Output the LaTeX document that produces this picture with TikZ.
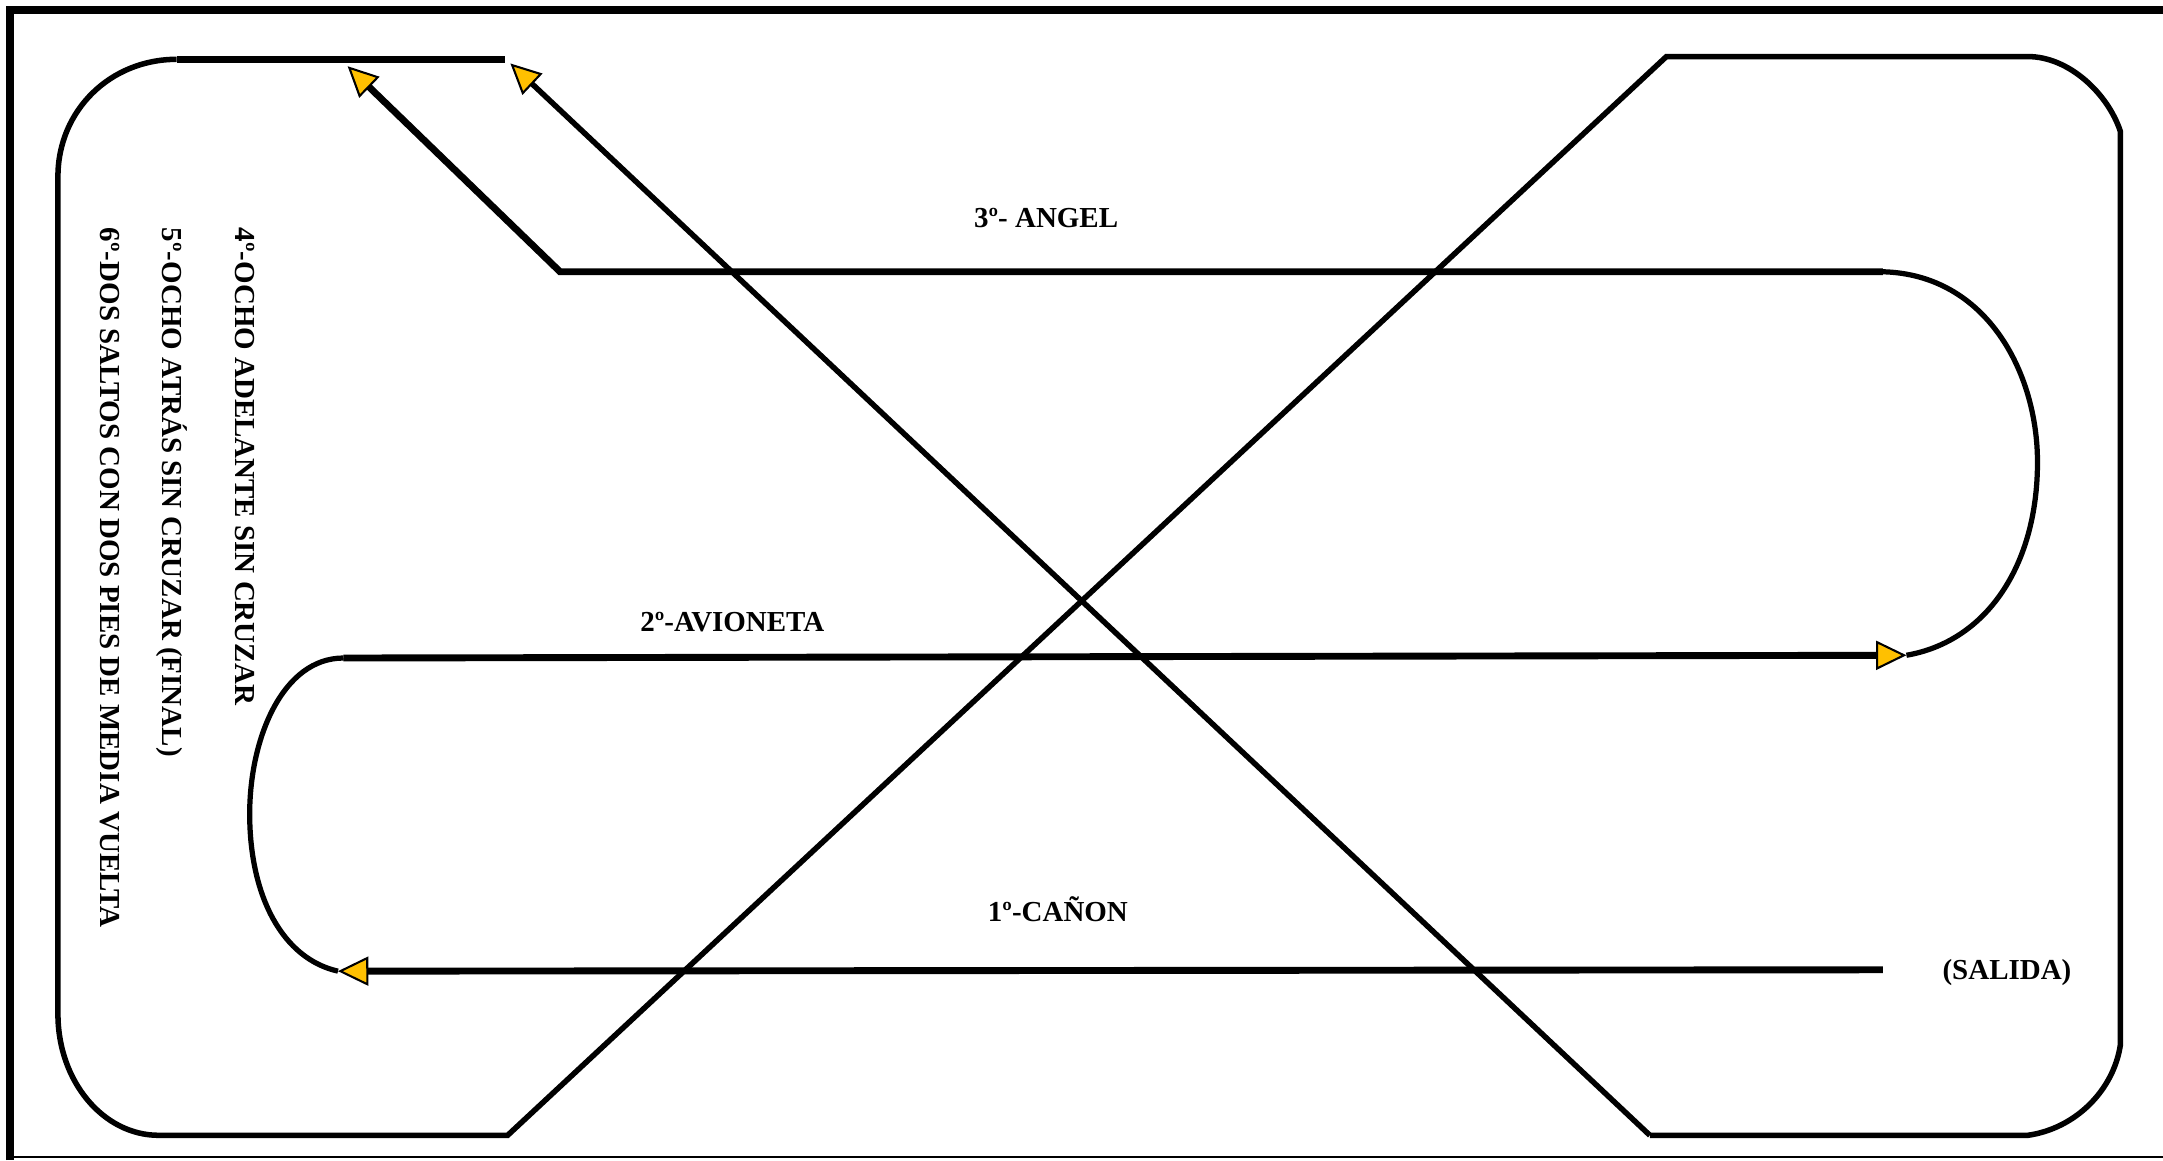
\documentclass[tikz,border=0pt]{standalone}
\usepackage{fontspec}
\setmainfont{Liberation Serif}
\usepackage{xcolor}
\usetikzlibrary{arrows.meta}
\definecolor{tipyellow}{RGB}{255,192,0}

\begin{document}
\begin{tikzpicture}[x=1pt, y=-1pt,
    track/.style={line width=4pt, line cap=butt},
    loopline/.style={line width=3.8pt},
    straight/.style={line width=5pt},
    arrow/.style={-{Triangle[length=22pt, width=21pt, fill=tipyellow, line width=1.5pt]}},
    lettering/.style={font=\fontsize{21}{24}\selectfont\bfseries, inner sep=0pt, anchor=base west},
    side/.style={lettering, rotate=-90}]

\useasboundingbox (0,0) rectangle (1568,841);

% frame
\draw[line width=6pt] (7,841) -- (7,7) -- (1568,7);
\draw[line width=1.5pt] (7,839) -- (1568,839);

% inner course
\coordinate (salida) at (1365,703);
\coordinate (L1) at (245,704);
\coordinate (L2) at (249,477);
\coordinate (R2) at (1382,475);
\coordinate (R3) at (1365,197);
\coordinate (L3) at (406,197);
\coordinate (T1) at (252,48);

\draw[straight, arrow] (salida) -- (L1);
\draw[loopline] (L1) .. controls (205,695) and (181,650) .. (181,590)
    .. controls (181,535) and (205,477) .. (L2);
\draw[straight, arrow] (L2) -- (R2);
\draw[loopline] (R2) .. controls (1440,465) and (1477,410) .. (1477,335)
    .. controls (1477,270) and (1440,199) .. (R3);
\draw[straight, arrow] (R3) -- (L3) -- (T1);

% outer course
\coordinate (T2) at (366,43);
\coordinate (B1) at (368,823);
\coordinate (T3) at (1208,41);
\coordinate (B2) at (1196,823);
\coordinate (T4) at (370,46);

\draw[straight] (T2) -- (128,43);
\draw[track] (128,43) .. controls (80,43) and (42,80) .. (42,128)
    -- (42,735) .. controls (42,784) and (75,823) .. (115,823) -- (B1) -- (T3)
    -- (1470,41) .. controls (1500,41) and (1528,68) .. (1537,95)
    -- (1537,758) .. controls (1532,790) and (1505,818) .. (1470,823) -- (B2);
\draw[track, arrow] (B2) -- (T4);

% labels
\node[lettering] (angel) at (706,165) {3º- ANGEL};
\node[lettering] (avioneta) at (464,458) {2º-AVIONETA};
\node[lettering] (canon) at (716,668) {1º-CAÑON};
\node[lettering] (start) at (1408,710) {(SALIDA)};
\node[side] (ocho) at (171,165) {4º-OCHO ADELANTE SIN CRUZAR};
\node[side] (atras) at (118,165) {5º-OCHO ATRÁS SIN CRUZAR (FINAL)};
\node[side] (saltos) at (73,165) {6º-DOS SALTOS CON DOS PIES DE MEDIA VUELTA};
\end{tikzpicture}
\end{document}
